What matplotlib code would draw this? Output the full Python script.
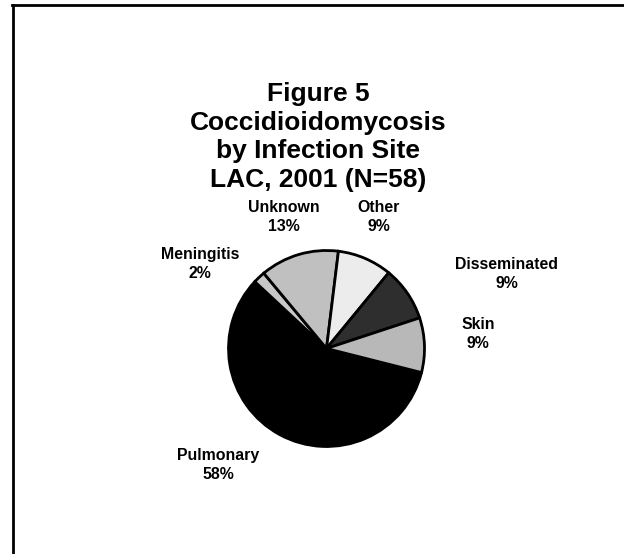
import matplotlib
import matplotlib.pyplot as plt
from matplotlib.lines import Line2D

matplotlib.use("Agg")

# data
sites = ["Pulmonary", "Meningitis", "Unknown", "Other", "Disseminated", "Skin"]
percents = [58, 2, 13, 9, 9, 9]
title_lines = ["Figure 5", "Coccidioidomycosis", "by Infection Site", "LAC, 2001 (N=58)"]

# styles / layout (pixel coords, y from top)
fills = ["#000000", "#c8c8c8", "#c0c0c0", "#ececec", "#2e2e2e", "#b8b8b8"]
label_xy = [(218, 465), (200, 264), (284, 217), (379, 217), (507, 274), (478, 334)]
W, H = 624, 554
pie_center = (326.5, 348.5)
pie_radius = 98

plt.rcParams["font.family"] = ["Liberation Sans", "DejaVu Sans"]

fig = plt.figure(figsize=(W / 100, H / 100), dpi=100, facecolor="white")
ax = fig.add_axes([0, 0, 1, 1])

ax.pie(
    percents,
    colors=fills,
    startangle=-14.2,
    counterclock=False,
    center=(pie_center[0], H - pie_center[1]),
    radius=pie_radius,
    wedgeprops=dict(edgecolor="black", linewidth=2.0),
)
ax.set_xlim(0, W)
ax.set_ylim(0, H)
ax.set_aspect("auto")
ax.axis("off")

for name, pct, (lx, ly) in zip(sites, percents, label_xy):
    ax.text(lx, H - ly, f"{name}\n{pct}%", ha="center", va="center",
            fontsize=11.4, fontweight="bold", linespacing=1.4)

fig.text(318 / W, 1 - 137 / H, "\n".join(title_lines), ha="center", va="center",
         fontsize=19, fontweight="bold", linespacing=1.25)

# frame: top and left edges only
fig.add_artist(Line2D([12 / W, 1], [1 - 5 / H, 1 - 5 / H], color="black", lw=2.0,
                      transform=fig.transFigure))
fig.add_artist(Line2D([13 / W, 13 / W], [0, 1 - 5 / H], color="black", lw=2.0,
                      transform=fig.transFigure))

fig.savefig("out.png", dpi=100, facecolor="white")
